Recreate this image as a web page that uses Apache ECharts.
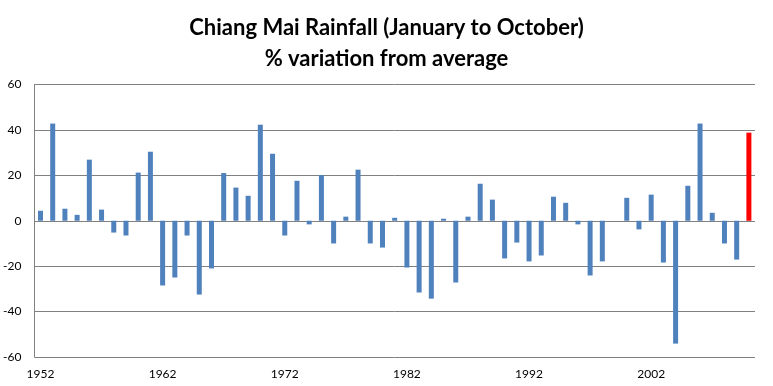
<!DOCTYPE html>
<html>
<head>
<meta charset="utf-8">
<script src="https://cdn.jsdelivr.net/npm/echarts@6/dist/echarts.min.js"></script>
<style>
html,body{margin:0;padding:0;background:#fff;}
#chart{width:773px;height:386px;}
</style>
</head>
<body>
<div id="chart"></div>
<script>
var years = [];
for (var y = 1952; y <= 2010; y++) years.push(String(y));
var values = [
  4.4, 42.8, 5.3, 2.6, 26.9, 4.9, -5.2, -6.5, 21.2, 30.4,
  -28.5, -25.0, -6.5, -32.5, -21.0, 21.0, 14.6, 11.0, 42.3, 29.5,
  -6.5, 17.6, -1.6, 20.1, -10.0, 1.8, 22.5, -10.0, -11.8, 1.3,
  -20.6, -31.6, -34.3, 0.9, -27.2, 1.8, 16.3, 9.3, -16.6, -9.6,
  -17.9, -15.3, 10.6, 7.9, -1.6, -24.1, -17.9, 0, 10.1, -3.8,
  11.5, -18.4, -54.1, 15.4, 42.8, 3.5, -10.0, -17.1, 38.8
];
var highlightYear = '2010';
var yTicks = {min: -60, max: 60, interval: 20};

var seriesData = values.map(function (v, i) {
  if (years[i] === highlightYear) {
    return {value: v, itemStyle: {color: '#FF0000'}};
  }
  return v;
});

var chart = echarts.init(document.getElementById('chart'), null, {renderer: 'canvas'});
chart.setOption({
  animation: false,
  backgroundColor: '#ffffff',
  title: {
    text: 'Chiang Mai Rainfall (January to October)\n% variation from average',
    left: 'center',
    top: 7,
    textStyle: {
      fontFamily: 'Lato',
      fontWeight: 'bold',
      fontSize: 22,
      lineHeight: 31,
      color: '#000'
    }
  },
  grid: {left: 33, right: 18, top: 84.5, bottom: 29},
  xAxis: {
    type: 'category',
    data: years,
    boundaryGap: true,
    axisLine: {show: false},
    axisTick: {show: false},
    axisLabel: {
      interval: 9,
      margin: 11,
      color: '#000',
      fontFamily: 'Lato',
      fontSize: 12
    },
    splitLine: {show: false}
  },
  yAxis: {
    type: 'value',
    min: yTicks.min,
    max: yTicks.max,
    interval: yTicks.interval,
    axisLine: {show: true, lineStyle: {color: '#808080', width: 1}},
    axisTick: {show: false},
    axisLabel: {
      margin: 13,
      color: '#000',
      fontFamily: 'Lato',
      fontSize: 12
    },
    splitLine: {show: true, lineStyle: {color: '#808080', width: 1}}
  },
  series: [{
    type: 'bar',
    data: seriesData,
    barWidth: 5,
    itemStyle: {color: '#4F81BD'}
  }]
});
</script>
</body>
</html>
